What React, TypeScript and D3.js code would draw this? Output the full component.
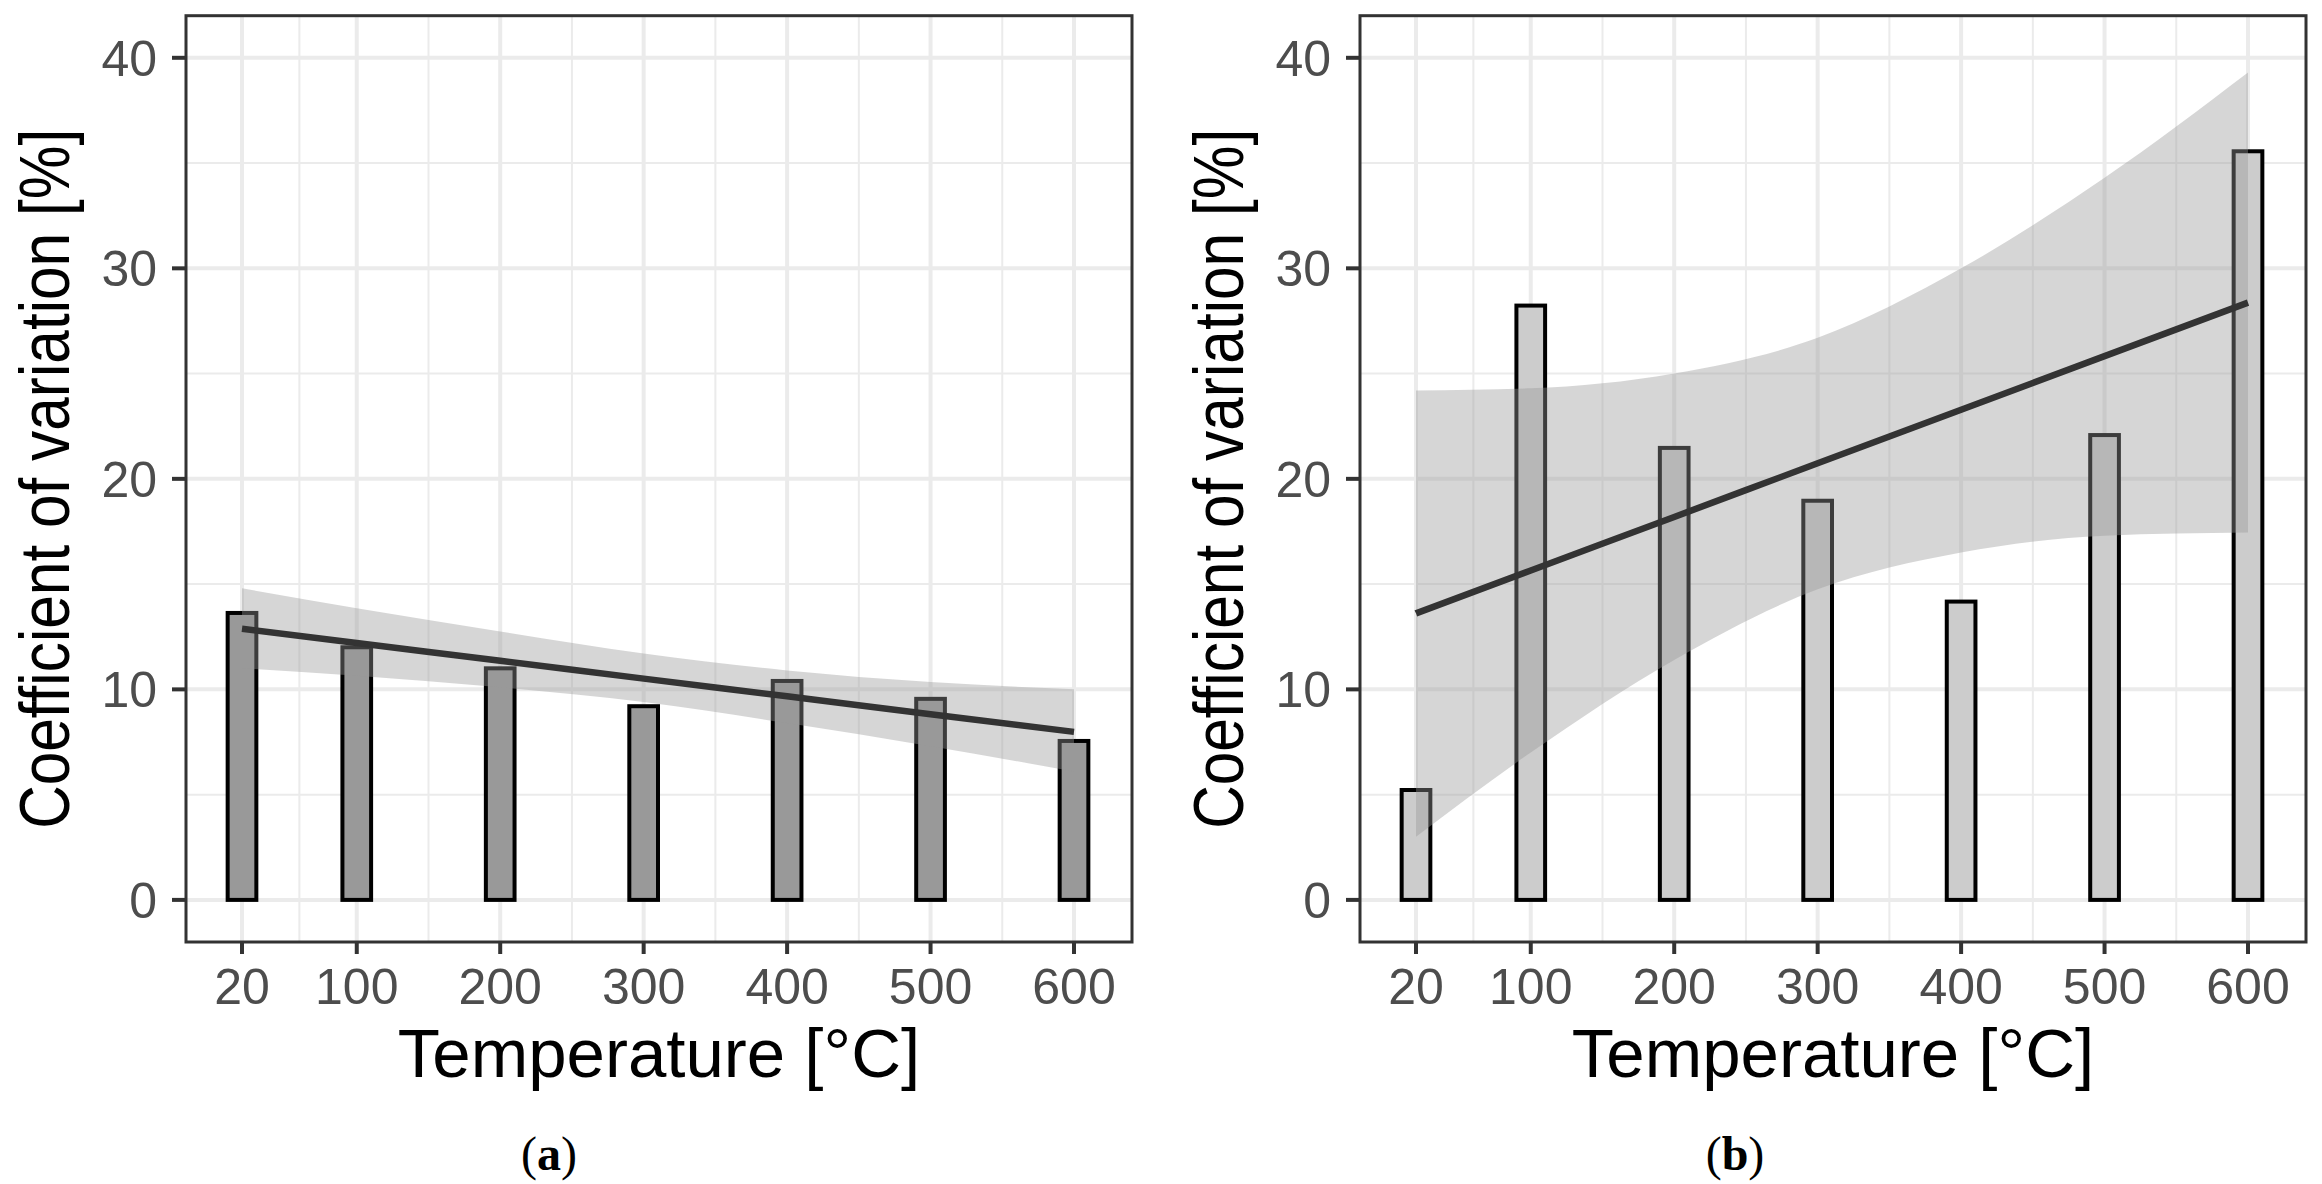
import React from "react";
import * as d3 from "d3";

// ---- data ----
const temps = [20, 100, 200, 300, 400, 500, 600];
const xTickLabels = ["20", "100", "200", "300", "400", "500", "600"];
const xMinor = [60, 150, 250, 350, 450, 550];
const yTicks = [0, 10, 20, 30, 40];
const yMinor = [5, 15, 25, 35];

const cvA = [13.63, 12.0, 11.0, 9.2, 10.4, 9.55, 7.55];
const fitA = [12.88, 12.2, 11.36, 10.51, 9.67, 8.82, 7.98];
const bandUpperA = [14.8, 13.85, 12.75, 11.7, 10.9, 10.35, 10.0];
const bandLowerA = [11.0, 10.65, 10.1, 9.4, 8.4, 7.3, 6.1];

const cvB = [5.22, 28.23, 21.47, 18.96, 14.17, 22.08, 35.56];
const fitB = [13.61, 15.65, 18.19, 20.74, 23.28, 25.83, 28.37];
const bandUpperB = [24.2, 24.3, 25.0, 26.7, 30.0, 34.3, 39.3];
const bandLowerB = [3.0, 7.0, 11.4, 14.75, 16.5, 17.3, 17.45];

const W = 2322;
const H = 1184;
const TOP = 15.7;
const BOTTOM = 942;
const PANEL_W = 946;
const X_DOMAIN: [number, number] = [-19.04, 640.43];
const Y_DOMAIN: [number, number] = [-2, 42];
const BAR_HALF = 10;

type PanelProps = {
  left: number;
  values: number[];
  fit: number[];
  upper: number[];
  lower: number[];
  barFill: string;
  caption: string;
  captionX: number;
};

function Panel({ left, values, fit, upper, lower, barFill, caption, captionX }: PanelProps) {
  const right = left + PANEL_W;
  const x = d3.scaleLinear().domain(X_DOMAIN).range([left, right]);
  const y = d3.scaleLinear().domain(Y_DOMAIN).range([BOTTOM, TOP]);

  const bandData = temps.map((t, i) => ({ t, lo: lower[i], hi: upper[i] }));
  const area = d3
    .area<{ t: number; lo: number; hi: number }>()
    .x((d) => x(d.t))
    .y0((d) => y(d.lo))
    .y1((d) => y(d.hi))
    .curve(d3.curveMonotoneX);
  const line = d3
    .line<number>()
    .x((_, i) => x(temps[i]))
    .y((d) => y(d))
    .curve(d3.curveMonotoneX);

  const cx = (left + right) / 2;
  const cy = (TOP + BOTTOM) / 2;
  const titleX = left - 117;

  return (
    <g>
      <rect x={left} y={TOP} width={PANEL_W} height={BOTTOM - TOP} fill="#FFFFFF" />
      {/* minor grid */}
      {xMinor.map((m) => (
        <line key={"xm" + m} x1={x(m)} x2={x(m)} y1={TOP} y2={BOTTOM} stroke="#EBEBEB" strokeWidth={2} />
      ))}
      {yMinor.map((m) => (
        <line key={"ym" + m} x1={left} x2={right} y1={y(m)} y2={y(m)} stroke="#EBEBEB" strokeWidth={2} />
      ))}
      {/* major grid */}
      {temps.map((t) => (
        <line key={"xg" + t} x1={x(t)} x2={x(t)} y1={TOP} y2={BOTTOM} stroke="#EBEBEB" strokeWidth={4} />
      ))}
      {yTicks.map((v) => (
        <line key={"yg" + v} x1={left} x2={right} y1={y(v)} y2={y(v)} stroke="#EBEBEB" strokeWidth={4} />
      ))}
      {/* bars */}
      {temps.map((t, i) => (
        <rect
          key={"b" + t}
          x={x(t - BAR_HALF)}
          y={y(values[i])}
          width={x(t + BAR_HALF) - x(t - BAR_HALF)}
          height={y(0) - y(values[i])}
          fill={barFill}
          stroke="#000000"
          strokeWidth={4}
        />
      ))}
      {/* confidence band */}
      <path d={area(bandData) || ""} fill="#999999" fillOpacity={0.4} />
      {/* fit line */}
      <path d={line(fit) || ""} fill="none" stroke="#333333" strokeWidth={6.5} />
      {/* border */}
      <rect x={left} y={TOP} width={PANEL_W} height={BOTTOM - TOP} fill="none" stroke="#333333" strokeWidth={3} />
      {/* y ticks */}
      {yTicks.map((v) => (
        <g key={"yt" + v}>
          <line x1={left - 14} x2={left} y1={y(v)} y2={y(v)} stroke="#333333" strokeWidth={4} />
          <text
            x={left - 29}
            y={y(v)}
            dy="0.36em"
            textAnchor="end"
            fontFamily="Liberation Sans, Arial, sans-serif"
            fontSize={50}
            fill="#4D4D4D"
          >
            {v}
          </text>
        </g>
      ))}
      {/* x ticks */}
      {temps.map((t, i) => (
        <g key={"xt" + t}>
          <line x1={x(t)} x2={x(t)} y1={BOTTOM} y2={BOTTOM + 12} stroke="#333333" strokeWidth={4} />
          <text
            x={x(t)}
            y={1004}
            textAnchor="middle"
            fontFamily="Liberation Sans, Arial, sans-serif"
            fontSize={50}
            fill="#4D4D4D"
          >
            {xTickLabels[i]}
          </text>
        </g>
      ))}
      {/* axis titles */}
      <text
        x={cx}
        y={1077}
        textAnchor="middle"
        fontFamily="Liberation Sans, Arial, sans-serif"
        fontSize={69}
        fill="#000000"
      >
        Temperature [°C]
      </text>
      <text
        transform={`translate(${titleX},${cy}) rotate(-90)`}
        textAnchor="middle"
        fontFamily="Liberation Sans, Arial, sans-serif"
        fontSize={70}
        fill="#000000"
        textLength={700}
        lengthAdjust="spacingAndGlyphs"
      >
        Coefficient of variation [%]
      </text>
      {/* caption */}
      <text
        x={captionX}
        y={1170}
        textAnchor="middle"
        fontFamily="Liberation Serif, Times New Roman, serif"
        fontSize={48}
        fill="#000000"
      >
        (<tspan fontWeight="bold">{caption}</tspan>)
      </text>
    </g>
  );
}

export default function App() {
  return (
    <svg
      width={W}
      height={H}
      viewBox={`0 0 ${W} ${H}`}
      style={{ position: "absolute", left: 0, top: 0, background: "#FFFFFF" }}
    >
      <rect x={0} y={0} width={W} height={H} fill="#FFFFFF" />
      <Panel
        left={186}
        values={cvA}
        fit={fitA}
        upper={bandUpperA}
        lower={bandLowerA}
        barFill="#999999"
        caption="a"
        captionX={549}
      />
      <Panel
        left={1360}
        values={cvB}
        fit={fitB}
        upper={bandUpperB}
        lower={bandLowerB}
        barFill="#CCCCCC"
        caption="b"
        captionX={1735}
      />
    </svg>
  );
}
